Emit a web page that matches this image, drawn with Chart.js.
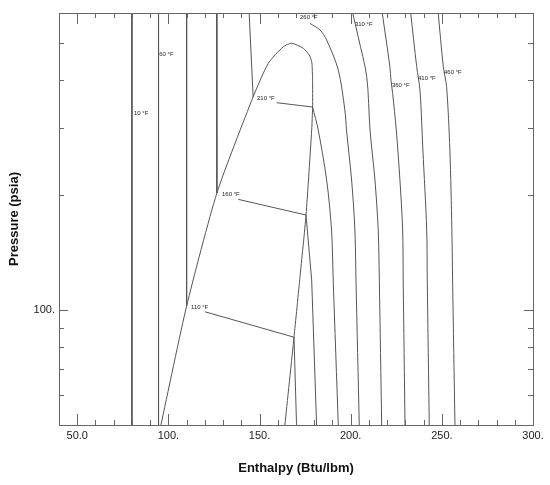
<!DOCTYPE html>
<html>
<head>
<meta charset="utf-8">
<script src="https://cdn.jsdelivr.net/npm/chart.js@4"></script>
<style>
  body { margin: 0; background: #fff; }
</style>
</head>
<body>
<canvas id="chart" width="550" height="485"></canvas>
<script>
// saturation dome (enthalpy Btu/lbm, pressure psia)
const domeH = [95.9, 110.0, 126.6, 146.4, 154.8, 163.0, 167.6, 174.0, 177.6, 178.7, 179.1, 179.1, 178.6, 175.5, 172.2, 168.9, 163.9]
const domeP = [50, 102.5, 202.6, 361, 443, 489.5, 500, 485, 463, 444, 400, 340, 296, 177.4, 122.3, 84.9, 50]

// liquid side isotherms
const liq10H = [80.0, 80.0],   liq10P = [600, 50]
const liq60H = [94.6, 94.6],   liq60P = [600, 50]
const liq110H = [110.0, 110.0], liq110P = [600, 102.5]
const liq160H = [126.5, 126.6], liq160P = [600, 202.6]
const liq210H = [144.3, 146.5], liq210P = [600, 360.8]

// two-phase segments
const mix110H = [120.0, 168.9], mix110P = [99.0, 84.9]
const mix160H = [138.3, 175.5], mix160P = [195, 177.4]
const mix210H = [159.4, 179.1], mix210P = [349.3, 340.3]

// vapour side isotherms
const vap110H = [168.9, 170.3], vap110P = [84.9, 50]
const vap160H = [175.5, 178.6, 181.3], vap160P = [177.4, 119.9, 50]
const vap210H = [179.1, 182.2, 186.8, 189.5, 190.4, 193.2]
const vap210P = [340.3, 296.3, 219.2, 162.1, 119.9, 50]
const vap260H = [177.6, 183.2, 186.8, 193.2, 196.8, 197.7, 200.5, 202.3, 202.9, 204.7]
const vap260P = [563.5, 541.4, 510, 425.4, 334, 296.3, 219.2, 162.1, 119.9, 50]
const vap310H = [201.1, 204.1, 208.8, 210.6, 213.3, 215.1, 215.7, 217.0]
const vap310P = [600, 520, 408.5, 296.3, 219.2, 162.1, 119.9, 50]
const vap360H = [217.3, 221.5, 222.1, 223.0, 225.0, 227.0, 228.5, 228.8, 229.8]
const vap360P = [600, 434, 400, 369.6, 296.3, 219.2, 162.1, 119.9, 50]
const vap410H = [232.9, 236.2, 238.0, 239.6, 241.7, 242.0, 243.1]
const vap410P = [600, 434, 377, 262.6, 162.1, 119.9, 50]
const vap460H = [248.0, 250.8, 252.6, 254.4, 255.5, 255.9, 257.2]
const vap460P = [600, 434, 384.6, 262.6, 162.1, 119.9, 50]

// isotherm labels
const tempLabels = ['10 °F', '60 °F', '110 °F', '160 °F', '210 °F', '260 °F', '310 °F', '360 °F', '410 °F', '460 °F']
const labelH = [81.1, 95.0, 112.4, 129.4, 148.6, 172.2, 202.3, 222.6, 236.9, 251.2]
const labelP = [328.2, 467.6, 101.9, 200.8, 358.2, 584, 561, 386.9, 404.1, 419.4]

// ticks
const xMajor = [50, 100, 150, 200, 250, 300]
const xMinor = [50, 60, 70, 80, 90, 100, 110, 120, 130, 140, 150, 160, 170, 180, 190, 200, 210, 220, 230, 240, 250, 260, 270, 280, 290]
const yMajor = [100]
const yMinor = [60, 70, 80, 90, 200, 300, 400, 500]

const pts = (h, p) => h.map((v, i) => ({x: v, y: p[i]}))
const line = (h, p, tension) => ({
  data: pts(h, p),
  showLine: true,
  borderColor: '#555',
  borderWidth: 1,
  pointRadius: 0,
  tension: tension || 0,
  fill: false
})

const framePlugin = {
  id: 'frame',
  afterDatasetsDraw(chart) {
    const {ctx, chartArea: a, scales: {x, y}} = chart
    ctx.save()
    ctx.strokeStyle = '#666'
    ctx.lineWidth = 1
    ctx.strokeRect(a.left + 0.5, a.top + 0.5, a.right - a.left, a.bottom - a.top)
    ctx.beginPath()
    xMinor.forEach(v => {
      const px = Math.round(x.getPixelForValue(v)) + 0.5
      const len = xMajor.includes(v) ? 11 : 5
      ctx.moveTo(px, a.bottom); ctx.lineTo(px, a.bottom - len)
      ctx.moveTo(px, a.top); ctx.lineTo(px, a.top + len)
    })
    yMinor.concat(yMajor).forEach(v => {
      const py = Math.round(y.getPixelForValue(v)) + 0.5
      const len = yMajor.includes(v) ? 9 : 5
      ctx.moveTo(a.left, py); ctx.lineTo(a.left + len, py)
      ctx.moveTo(a.right, py); ctx.lineTo(a.right - len, py)
    })
    ctx.stroke()
    ctx.fillStyle = '#222'
    ctx.font = '6px "Liberation Sans", Arial, sans-serif'
    ctx.textAlign = 'left'
    ctx.textBaseline = 'middle'
    tempLabels.forEach((t, i) => {
      ctx.fillText(t, x.getPixelForValue(labelH[i]), y.getPixelForValue(labelP[i]))
    })
    ctx.restore()
  }
}

Chart.defaults.font.family = '"Liberation Sans", Arial, sans-serif'
Chart.defaults.color = '#222'

new Chart(document.getElementById('chart').getContext('2d'), {
  type: 'scatter',
  data: {
    datasets: [
      line(domeH, domeP, 0.2),
      line(liq10H, liq10P), line(liq60H, liq60P), line(liq110H, liq110P),
      line(liq160H, liq160P), line(liq210H, liq210P),
      line(mix110H, mix110P), line(mix160H, mix160P), line(mix210H, mix210P),
      line(vap110H, vap110P), line(vap160H, vap160P),
      line(vap210H, vap210P, 0.3), line(vap260H, vap260P, 0.3), line(vap310H, vap310P, 0.3),
      line(vap360H, vap360P, 0.3), line(vap410H, vap410P, 0.3), line(vap460H, vap460P, 0.3)
    ]
  },
  options: {
    responsive: false,
    animation: false,
    devicePixelRatio: 1,
    events: [],
    layout: { padding: { left: 0, top: 13, right: 17, bottom: 0 } },
    plugins: {
      legend: { display: false },
      tooltip: { enabled: false }
    },
    scales: {
      x: {
        type: 'linear',
        min: 40,
        max: 300,
        grid: { display: false, drawTicks: false },
        border: { display: false },
        afterBuildTicks: s => { s.ticks = xMajor.map(v => ({value: v})) },
        afterFit: s => { s.height = 60 },
        ticks: {
          autoSkip: false,
          maxRotation: 0,
          padding: 4,
          font: { size: 11 },
          callback: v => v < 100 ? v.toFixed(1) : v + '.'
        },
        title: {
          display: true,
          text: 'Enthalpy (Btu/lbm)',
          font: { size: 13, weight: 'bold' },
          color: '#111',
          padding: { top: 0, bottom: 9 }
        }
      },
      y: {
        type: 'logarithmic',
        min: 50,
        max: 600,
        grid: { display: false, drawTicks: false },
        border: { display: false },
        afterBuildTicks: s => { s.ticks = yMajor.map(v => ({value: v})) },
        afterFit: s => { s.width = 59 },
        ticks: {
          autoSkip: false,
          padding: 4,
          font: { size: 11 },
          callback: v => v + '.'
        },
        title: {
          display: true,
          text: 'Pressure (psia)',
          font: { size: 13, weight: 'bold' },
          color: '#111',
          padding: { top: 7, bottom: 0 }
        }
      }
    }
  },
  plugins: [framePlugin]
})
</script>
</body>
</html>
